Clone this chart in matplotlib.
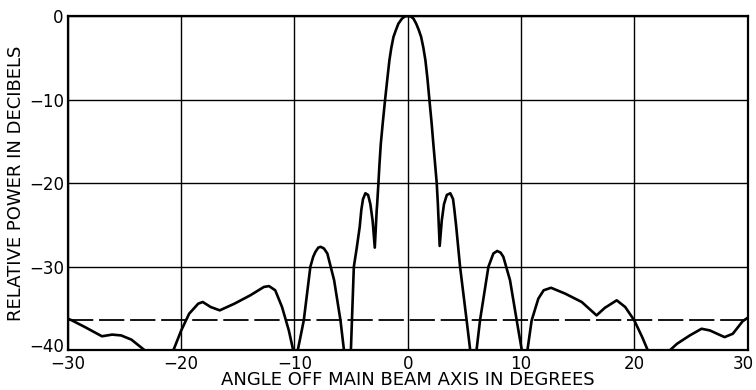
import matplotlib
matplotlib.use("Agg")
import matplotlib.pyplot as plt
from matplotlib.transforms import ScaledTranslation

# Antenna pattern (angle in degrees, power in dB)
angle_deg = [
    -30.0, -29.65, -28.5, -27.0, -26.1, -25.3, -24.4, -23.2, -22.5,
    -21.5, -20.7, -20.0, -19.3, -18.5, -18.1, -17.4, -16.6, -15.3, -13.9,
    -12.7, -12.25, -11.7, -11.1, -10.5, -10.06,
    -9.76, -9.18, -8.6, -8.35, -8.15, -7.9, -7.7, -7.4, -7.1, -6.5, -5.94, -5.5,
    -5.06, -4.76, -4.5, -4.24, -4.1, -3.95, -3.74, -3.5, -3.3, -3.1, -2.91,
    -2.74, -2.7, -2.59, -2.5, -2.38, -2.2, -2.0, -1.8, -1.62, -1.45, -1.26,
    -1.05, -0.82, -0.5, -0.25, 0.0,
    0.25, 0.5, 0.74, 0.98, 1.18, 1.38, 1.56, 1.74, 1.91, 2.1, 2.26, 2.42,
    2.56, 2.66, 2.82,
    3.0, 3.2, 3.45, 3.76, 4.0, 4.12, 4.28, 4.62, 5.2, 5.65,
    5.94, 6.38, 7.12, 7.56, 7.9, 8.2, 8.44, 9.03, 9.62, 10.15,
    10.5, 10.94, 11.53, 12.0, 12.65, 13.9, 15.36, 16.67, 17.4, 18.45,
    19.2, 20.0, 20.7, 21.2, 22.0, 22.8, 23.77, 24.9, 25.94, 26.67,
    27.97, 28.7, 29.57, 30.0,
]
power_db = [
    -36.2, -36.4, -37.2, -38.3, -38.1, -38.2, -38.7, -40.0, -41.0,
    -41.0, -40.0, -37.6, -35.6, -34.4, -34.2, -34.8, -35.2, -34.4, -33.4,
    -32.4, -32.3, -32.8, -34.8, -37.6, -40.3,
    -40.3, -36.4, -30.0, -28.8, -28.2, -27.7, -27.6, -27.8, -28.4, -31.6, -36.4, -41.5,
    -41.5, -30.0, -27.7, -25.2, -23.2, -21.9, -21.2, -21.4, -22.5, -24.5, -27.7,
    -23.2, -22.5, -20.0, -17.8, -15.3, -12.7, -10.0, -7.5, -5.3, -3.8, -2.5,
    -1.7, -0.9, -0.3, -0.05, 0.0,
    -0.05, -0.3, -0.9, -1.7, -2.5, -3.8, -5.3, -7.5, -10.0, -12.7, -15.3, -17.8,
    -20.0, -22.5, -27.5,
    -24.5, -22.5, -21.4, -21.2, -21.9, -23.2, -25.2, -30.0, -36.4, -41.5,
    -41.5, -36.4, -30.0, -28.4, -28.1, -28.3, -28.8, -31.6, -36.4, -40.6,
    -40.6, -36.4, -33.8, -32.8, -32.5, -33.2, -34.2, -35.8, -34.9, -34.0,
    -34.8, -36.4, -38.4, -40.0, -41.0, -40.4, -39.2, -38.2, -37.4, -37.6,
    -38.4, -38.0, -36.5, -36.1,
]

reference_level_db = -36.3

x_ticks = [-30, -20, -10, 0, 10, 20, 30]
y_ticks = [-40, -30, -20, -10, 0]
x_tick_labels = ["\u221230", "\u221220", "\u221210", "0", "10", "20", "30"]
y_tick_labels = ["\u221240", "\u221230", "\u221220", "\u221210", "0"]

plt.rcParams["font.family"] = ["DejaVu Sans"]

fig = plt.figure(figsize=(7.56, 3.90), dpi=100)
ax = fig.add_axes([0.0899, 0.1013, 0.8989, 0.8577])

ax.set_xlim(-30, 30)
ax.set_ylim(-40, 0)

ax.set_xticks(x_ticks)
ax.set_xticklabels(x_tick_labels)
ax.set_yticks(y_ticks)
ax.set_yticklabels(y_tick_labels)
ax.tick_params(axis="both", length=0, labelsize=12, pad=3)

# raise the bottom y label and pull the last x label inward, as in the reference
ylab = ax.get_yticklabels()[0]
ylab.set_transform(ylab.get_transform() + ScaledTranslation(0, 5 / 100, fig.dpi_scale_trans))
xlab_last = ax.get_xticklabels()[-1]
xlab_last.set_transform(xlab_last.get_transform() + ScaledTranslation(-4 / 100, 0, fig.dpi_scale_trans))

ax.grid(True, color="black", linewidth=1.0)
ax.set_axisbelow(True)
for s in ax.spines.values():
    s.set_linewidth(1.6)
    s.set_color("black")

ax.axhline(reference_level_db, color="black", linewidth=1.3,
           dashes=(14, 3.2), zorder=2)
ax.plot(angle_deg, power_db, color="black", linewidth=1.9,
        solid_joinstyle="round", zorder=3)

ax.set_xlabel("ANGLE OFF MAIN BEAM AXIS IN DEGREES", fontsize=13, labelpad=-1)
ax.set_ylabel("RELATIVE POWER IN DECIBELS", fontsize=13, labelpad=3)

fig.savefig("out.png", dpi=100)
